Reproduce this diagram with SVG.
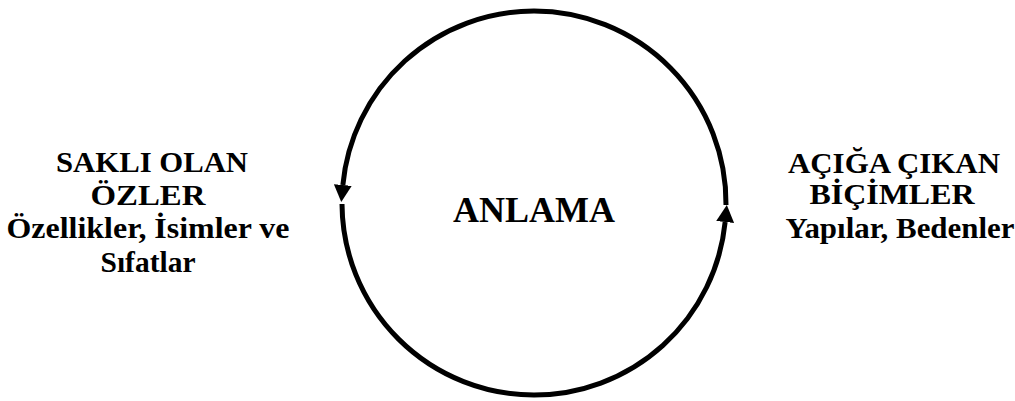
<svg xmlns="http://www.w3.org/2000/svg" width="1015" height="401" viewBox="0 0 1015 401">
<style>
.t{font-family:'Liberation Serif','DejaVu Serif',serif;font-weight:700;fill:#000;text-anchor:middle}
.s{font-size:30px}
.b{font-size:36px}
.arc{fill:none;stroke:#000;stroke-width:5}
</style>
<defs>
<marker id="ah" viewBox="0 -9 17 18" refX="0" refY="0" markerWidth="17" markerHeight="18" markerUnits="userSpaceOnUse" orient="auto">
<path d="M0,-9 L17,0 L0,9 z" fill="#000"/>
</marker>
</defs>
<rect width="1015" height="401" fill="#fff"/>
<g id="connectors">
<path class="arc" d="M534,11 A192,192 0 0 0 342.85,185" marker-end="url(#ah)"/>
<path class="arc" d="M342,204 A192,192 0 0 0 534,395"/>
<path class="arc" d="M534,395 A192,192 0 0 0 725.15,222" marker-end="url(#ah)"/>
<path class="arc" d="M726,205 A192,192 0 0 0 534,11"/>
</g>
<g id="center" font-family="Liberation Serif, serif">
<text class="t b" x="534" y="222" textLength="162" lengthAdjust="spacingAndGlyphs">ANLAMA</text>
</g>
<g id="left" font-family="Liberation Serif, serif">
<text class="t s" x="152" y="172" textLength="192" lengthAdjust="spacingAndGlyphs">SAKLI OLAN</text>
<text class="t s" x="148" y="205" textLength="115" lengthAdjust="spacingAndGlyphs">ÖZLER</text>
<text class="t s" x="148" y="238" textLength="283" lengthAdjust="spacingAndGlyphs">Özellikler, İsimler ve</text>
<text class="t s" x="148" y="272" textLength="95" lengthAdjust="spacingAndGlyphs">Sıfatlar</text>
</g>
<g id="right" font-family="Liberation Serif, serif">
<text class="t s" x="894" y="173" textLength="212" lengthAdjust="spacingAndGlyphs">AÇIĞA ÇIKAN</text>
<text class="t s" x="892" y="204" textLength="165" lengthAdjust="spacingAndGlyphs">BİÇİMLER</text>
<text class="t s" x="900" y="238" textLength="229" lengthAdjust="spacingAndGlyphs">Yapılar, Bedenler</text>
</g>
</svg>
